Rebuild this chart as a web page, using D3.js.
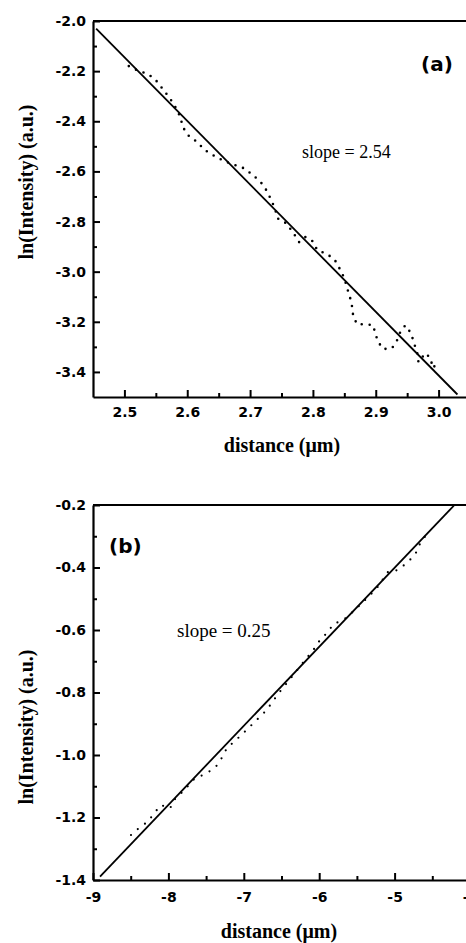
<!DOCTYPE html>
<html>
<head>
<meta charset="utf-8">
<script src="https://cdn.jsdelivr.net/npm/d3@7"></script>
<style>
  body { margin: 0; background: #fff; }
</style>
</head>
<body>
<div id="chart"></div>
<script>
// ---- panel (a) data ----
var xTicksA = [2.5, 2.6, 2.7, 2.8, 2.9, 3.0];
var xMinorA = [2.55, 2.65, 2.75, 2.85, 2.95];
var yTicksA = [-3.4, -3.2, -3.0, -2.8, -2.6, -2.4, -2.2, -2.0];
var yMinorA = [-3.3, -3.1, -2.9, -2.7, -2.5, -2.3, -2.1];
var distA = [2.507, 2.520, 2.538, 2.550, 2.561, 2.573, 2.582, 2.589, 2.593, 2.601,
             2.616, 2.628, 2.641, 2.656, 2.671, 2.687, 2.703, 2.717, 2.727, 2.733,
             2.740, 2.743, 2.757, 2.768, 2.778, 2.788, 2.799, 2.807, 2.823, 2.835,
             2.843, 2.850, 2.854, 2.859, 2.862, 2.864, 2.870, 2.885, 2.896, 2.899,
             2.904, 2.912, 2.926, 2.934, 2.939, 2.947, 2.956, 2.961, 2.966, 2.968,
             2.979, 2.987, 2.991, 3.001];
var lnIntA = [-2.180, -2.196, -2.212, -2.236, -2.271, -2.311, -2.347, -2.383, -2.423, -2.455,
              -2.483, -2.515, -2.535, -2.555, -2.571, -2.583, -2.611, -2.643, -2.679, -2.711,
              -2.750, -2.786, -2.806, -2.842, -2.882, -2.862, -2.878, -2.914, -2.930, -2.954,
              -2.990, -3.026, -3.062, -3.102, -3.134, -3.174, -3.210, -3.210, -3.214, -3.245,
              -3.281, -3.309, -3.305, -3.273, -3.241, -3.214, -3.245, -3.285, -3.325, -3.361,
              -3.325, -3.345, -3.385, -3.353];
var fitXA = [2.455, 3.03];
var fitYA = [-2.03, -3.49];

// ---- panel (b) data ----
var xTicksB = [-9, -8, -7, -6, -5, -4];
var xMinorB = [-8.5, -7.5, -6.5, -5.5, -4.5];
var yTicksB = [-1.4, -1.2, -1.0, -0.8, -0.6, -0.4, -0.2];
var yMinorB = [-1.3, -1.1, -0.9, -0.7, -0.5, -0.3];
var distB = [-8.496, -8.377, -8.271, -8.191, -8.098, -7.979, -7.912, -7.800, -7.650, -7.492,
             -7.369, -7.280, -7.227, -7.050, -6.918, -6.808, -6.696, -6.609, -6.520, -6.343,
             -6.200, -6.078, -5.989, -5.879, -5.813, -5.680, -5.569, -5.459, -5.336, -5.238,
             -5.084, -4.951, -4.839, -4.729, -4.673, -4.597];
var lnIntB = [-1.256, -1.231, -1.213, -1.187, -1.160, -1.171, -1.141, -1.115, -1.075, -1.059,
              -1.037, -1.005, -0.979, -0.940, -0.909, -0.883, -0.856, -0.826, -0.797, -0.744,
              -0.700, -0.664, -0.632, -0.605, -0.581, -0.568, -0.545, -0.520, -0.491, -0.467,
              -0.413, -0.408, -0.385, -0.360, -0.328, -0.301];
var fitXB = [-8.907, -4.206];
var fitYB = [-1.389, -0.2];

var W = 466, H = 943;
var svg = d3.select("#chart").append("svg")
    .attr("width", W).attr("height", H);

// plain hyphen instead of d3's unicode minus
function fmt (spec) {
    var f = d3.format(spec);
    return function (d) { return f(d).replace("\u2212", "-"); };
}

function draw_panel (p) {
    var x = d3.scaleLinear().domain(p.xDomain).range([p.left, p.right]);
    var y = d3.scaleLinear().domain(p.yDomain).range([p.bottom, p.top]);
    var g = svg.append("g");

    // minor ticks
    g.append("g")
    .attr("transform", "translate(0," + p.bottom + ")")
    .call(d3.axisBottom(x).tickValues(p.xMinor).tickSize(-4).tickFormat(""))
    .call(function (a) { a.select(".domain").remove(); });
    g.append("g")
    .attr("transform", "translate(" + p.left + ",0)")
    .call(d3.axisLeft(y).tickValues(p.yMinor).tickSize(-4).tickFormat(""))
    .call(function (a) { a.select(".domain").remove(); });

    // major ticks + labels
    var xa = g.append("g")
    .attr("transform", "translate(0," + p.bottom + ")")
    .call(d3.axisBottom(x).tickValues(p.xTicks).tickSize(-7).tickSizeOuter(0)
          .tickPadding(p.xPad).tickFormat(p.xFmt));
    var ya = g.append("g")
    .attr("transform", "translate(" + p.left + ",0)")
    .call(d3.axisLeft(y).tickValues(p.yTicks).tickSize(-7).tickSizeOuter(0)
          .tickPadding(7).tickFormat(fmt(".1f")));
    [xa, ya].forEach(function (a) {
        a.selectAll("text")
        .attr("font-family", "'DejaVu Sans', sans-serif")
        .attr("font-weight", "bold")
        .attr("font-size", 14)
        .attr("fill", "#000");
    });
    g.selectAll(".tick line").attr("stroke", "#000").attr("stroke-width", 2);
    g.selectAll(".domain").attr("stroke", "#000").attr("stroke-width", 2.2);

    // top frame line
    g.append("line")
    .attr("x1", p.left).attr("x2", W + 10)
    .attr("y1", p.top).attr("y2", p.top)
    .attr("stroke", "#000").attr("stroke-width", 2.2);

    // dotted data
    var pts = p.xs.map(function (v, i) { return [v, p.ys[i]]; });
    g.append("path")
    .datum(pts)
    .attr("fill", "none")
    .attr("stroke", "#000")
    .attr("stroke-width", p.dotW)
    .attr("stroke-linecap", "round")
    .attr("stroke-dasharray", "0 " + p.dotGap)
    .attr("d", d3.line().x(function (d) { return x(d[0]); }).y(function (d) { return y(d[1]); }));

    // fitted line
    var fit = p.fitX.map(function (v, i) { return [v, p.fitY[i]]; });
    g.append("path")
    .datum(fit)
    .attr("fill", "none")
    .attr("stroke", "#000")
    .attr("stroke-width", 1.8)
    .attr("d", d3.line().x(function (d) { return x(d[0]); }).y(function (d) { return y(d[1]); }));

    // axis titles
    g.append("text")
    .attr("transform", "translate(33," + p.yTitleY + ") rotate(-90)")
    .attr("text-anchor", "middle")
    .attr("font-family", "'Liberation Serif', 'Times New Roman', serif")
    .attr("font-weight", "bold")
    .attr("font-size", 20)
    .text("ln(Intensity) (a.u.)");
    g.append("text")
    .attr("x", p.xTitleX).attr("y", p.xTitleY)
    .attr("text-anchor", "middle")
    .attr("font-family", "'Liberation Serif', 'Times New Roman', serif")
    .attr("font-weight", "bold")
    .attr("font-size", 20)
    .text("distance (\u03bcm)");

    // annotations
    g.append("text")
    .attr("x", p.tagX).attr("y", p.tagY)
    .attr("font-family", "'DejaVu Sans', sans-serif")
    .attr("font-weight", "bold")
    .attr("font-size", 20)
    .text(p.tag);
    g.append("text")
    .attr("x", p.slopeX).attr("y", p.slopeY)
    .attr("font-family", "'Liberation Serif', 'Times New Roman', serif")
    .attr("font-size", p.slopeSize)
    .text(p.slope);
}

draw_panel({
    xDomain: [2.45, 3.05], yDomain: [-3.5, -2.0],
    left: 93, right: 470, top: 21, bottom: 397,
    xTicks: xTicksA, xMinor: xMinorA, yTicks: yTicksA, yMinor: yMinorA,
    xFmt: fmt(".1f"), xPad: 10,
    xs: distA, ys: lnIntA, dotW: 2.6, dotGap: 8,
    fitX: fitXA, fitY: fitYA,
    yTitleY: 182, xTitleX: 282, xTitleY: 452,
    tag: "(a)", tagX: 421, tagY: 71,
    slope: "slope = 2.54", slopeX: 302, slopeY: 158, slopeSize: 18
});

draw_panel({
    xDomain: [-9, -4], yDomain: [-1.4, -0.2],
    left: 93, right: 470, top: 505, bottom: 880,
    xTicks: xTicksB, xMinor: xMinorB, yTicks: yTicksB, yMinor: yMinorB,
    xFmt: fmt("d"), xPad: 12,
    xs: distB, ys: lnIntB, dotW: 2.2, dotGap: 9,
    fitX: fitXB, fitY: fitYB,
    yTitleY: 727, xTitleX: 279, xTitleY: 938,
    tag: "(b)", tagX: 109, tagY: 553,
    slope: "slope = 0.25", slopeX: 177, slopeY: 637, slopeSize: 19
});
</script>
</body>
</html>
